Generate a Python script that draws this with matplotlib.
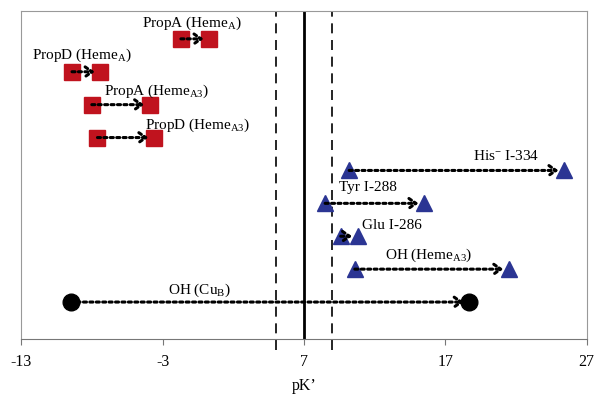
import matplotlib
matplotlib.use("Agg")
from matplotlib import pyplot as plt

plt.rcParams['font.family'] = ['Liberation Serif', 'DejaVu Serif']
plt.rcParams['mathtext.fontset'] = 'custom'
plt.rcParams['mathtext.rm'] = 'Liberation Serif'
plt.rcParams['mathtext.it'] = 'Liberation Serif:italic'
plt.rcParams['axes.unicode_minus'] = False

# pK' start -> end for each group, top to bottom
labels = ["PropA (Heme$_\\mathrm{A}$)", "PropD (Heme$_\\mathrm{A}$)",
          "PropA (Heme$_\\mathrm{A3}$)", "PropD (Heme$_\\mathrm{A3}$)",
          "His$^{-}$ I-334", "Tyr I-288", "Glu I-286",
          "OH (Heme$_\\mathrm{A3}$)", "OH (Cu$_\\mathrm{B}$)"]
start = [-1.7, -9.4, -8.0, -7.6, 10.2, 8.5, 9.6, 10.6, -9.5]
end = [0.3, -7.4, -3.9, -3.6, 25.4, 15.5, 10.8, 21.5, 18.7]
rows = [9, 8, 7, 6, 5, 4, 3, 2, 1]
kind = ["sq", "sq", "sq", "sq", "tri", "tri", "tri", "tri", "circ"]
# label anchor (x, y offset)
label_x = [-0.9, -8.7, -3.4, -0.5, 21.3, 11.5, 13.2, 15.8, -0.4]
label_dy = [0.5, 0.52, 0.45, 0.4, 0.47, 0.5, 0.37, 0.45, 0.4]

styles = {"sq": dict(marker='s', color='#c0131e', ms=12),
          "tri": dict(marker='^', color='#2b3593', ms=12),
          "circ": dict(marker='o', color='black', ms=12)}

fig = plt.figure(figsize=(6.03, 4.10), dpi=100)
ax = fig.add_axes([0.035, 0.171, 0.938, 0.80])

for i in range(len(labels)):
    st = styles[kind[i]]
    y = rows[i]
    ax.plot([start[i], end[i]], [y, y], linestyle='none', marker=st["marker"],
            color=st["color"], markersize=st["ms"], zorder=2)
    ax.annotate("", xy=(end[i], y), xytext=(start[i], y),
                arrowprops=dict(arrowstyle='->,head_length=0.5,head_width=0.35',
                                linestyle=(0, (1, 1.1)), lw=2.2, color='black',
                                shrinkA=0, shrinkB=4), zorder=3)
    ax.text(label_x[i], y + label_dy[i], labels[i], ha='center', va='center',
            fontsize=11, zorder=4)

ax.axvline(7, color='black', lw=2, zorder=1)
for xv in [5, 9]:
    ax.axvline(xv, ymin=-0.035, ymax=1, color='black', lw=1.2,
               linestyle=(0, (6, 4)), clip_on=False, zorder=1)

ax.set_xlim(-13, 27)
ax.set_ylim(-0.12, 9.85)
ax.set_xticks([-13, -3, 7, 17, 27])
ax.set_yticks([])
ax.tick_params(axis='x', direction='out', length=4, labelsize=11.5, pad=6,
               color='#777777')
for side in ['left', 'top', 'right']:
    ax.spines[side].set_color('#999999')
ax.spines['bottom'].set_color('#777777')
ax.set_xlabel("pK’", fontsize=11.5, labelpad=6)

fig.savefig("out.png", dpi=100)
